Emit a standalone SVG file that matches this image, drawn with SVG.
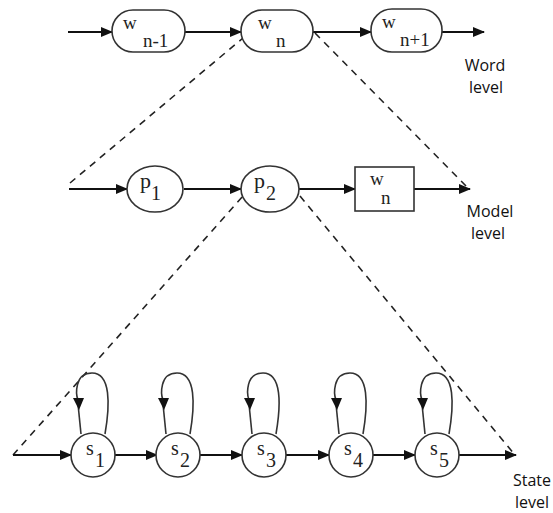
<svg xmlns="http://www.w3.org/2000/svg" width="553" height="513" viewBox="0 0 553 513">
<defs>
<marker id="ah" markerWidth="12" markerHeight="10" refX="11" refY="5" orient="auto" markerUnits="userSpaceOnUse">
<path d="M0,0 L12,5 L0,10 Z" fill="#111"/>
</marker>
</defs>
<style>
.n{fill:#fff;stroke:#333;stroke-width:1.6}
.e{fill:none;stroke:#111;stroke-width:2;marker-end:url(#ah)}
.d{fill:none;stroke:#222;stroke-width:1.6;stroke-dasharray:7,6}
.lp{fill:none;stroke:#333;stroke-width:1.6}
.t{font-family:"Liberation Serif",serif;fill:#222}
.l{font-family:"Open Sans","Liberation Sans",sans-serif;font-size:16px;fill:#111;text-anchor:middle}
</style>
<rect width="553" height="513" fill="#fff"/>
<g id="connectors">
<path class="d" d="M70,183 L243,38"/>
<path class="d" d="M315,33 L466,186"/>
<path class="d" d="M13,455 L243,196"/>
<path class="d" d="M300,196 L515,455"/>
<path class="e" d="M68,32 L112,32"/>
<path class="e" d="M185,32 L241,32"/>
<path class="e" d="M313,32 L371,32"/>
<path class="e" d="M442,32 L484,32"/>
<path class="e" d="M69,189 L127,189"/>
<path class="e" d="M184,189 L241,189"/>
<path class="e" d="M299,189 L355,189"/>
<path class="e" d="M414,189 L470,189"/>
<path class="e" d="M13,455 L71,455"/>
<path class="e" d="M115,455 L157,455"/>
<path class="e" d="M200,455 L242,455"/>
<path class="e" d="M286,455 L329,455"/>
<path class="e" d="M373,455 L415,455"/>
<path class="e" d="M459,455 L516,455"/>
</g>
<g id="loops">
<g transform="translate(0,0)"><path class="lp" d="M105,434 C110,405 111,373 92,373 C74,373 76,395 78,400"/><path class="lp" d="M78,404 L81,434" /><path d="M73,398 L84,398 L79,410 Z" fill="#111"/></g>
<g transform="translate(85,0)"><path class="lp" d="M105,434 C110,405 111,373 92,373 C74,373 76,395 78,400"/><path class="lp" d="M78,404 L81,434" /><path d="M73,398 L84,398 L79,410 Z" fill="#111"/></g>
<g transform="translate(171,0)"><path class="lp" d="M105,434 C110,405 111,373 92,373 C74,373 76,395 78,400"/><path class="lp" d="M78,404 L81,434" /><path d="M73,398 L84,398 L79,410 Z" fill="#111"/></g>
<g transform="translate(258,0)"><path class="lp" d="M105,434 C110,405 111,373 92,373 C74,373 76,395 78,400"/><path class="lp" d="M78,404 L81,434" /><path d="M73,398 L84,398 L79,410 Z" fill="#111"/></g>
<g transform="translate(344,0)"><path class="lp" d="M105,434 C110,405 111,373 92,373 C74,373 76,395 78,400"/><path class="lp" d="M78,404 L81,434" /><path d="M73,398 L84,398 L79,410 Z" fill="#111"/></g>
</g>
<g id="w_n-1">
<rect class="n" x="112" y="10" width="73" height="42" rx="21"/>
<text class="t" x="123" y="29" font-size="19">w</text><text class="t" x="143" y="47" font-size="19">n-1</text>
</g>
<g id="w_n">
<rect class="n" x="241" y="10" width="72" height="42" rx="21"/>
<text class="t" x="258" y="29" font-size="19">w</text><text class="t" x="276" y="47" font-size="19">n</text>
</g>
<g id="w_n+1">
<rect class="n" x="371" y="9" width="71" height="43" rx="21"/>
<text class="t" x="382" y="28" font-size="19">w</text><text class="t" x="400" y="46" font-size="19">n+1</text>
</g>
<g id="p1">
<ellipse class="n" cx="155" cy="189" rx="28" ry="23"/>
<text class="t" x="140" y="188" font-size="22">p</text><text class="t" x="151" y="200" font-size="20">1</text>
</g>
<g id="p2">
<ellipse class="n" cx="270" cy="189" rx="29" ry="23"/>
<text class="t" x="254" y="188" font-size="22">p</text><text class="t" x="266" y="200" font-size="20">2</text>
</g>
<g id="w_n_model">
<rect class="n" x="355" y="167" width="59" height="44"/>
<text class="t" x="370" y="185" font-size="19">w</text><text class="t" x="381" y="204" font-size="19">n</text>
</g>
<g id="s1"><circle class="n" cx="93" cy="455" r="22"/><text class="t" x="86" y="455" font-size="20">s</text><text class="t" x="95" y="467" font-size="20">1</text></g>
<g id="s2"><circle class="n" cx="178" cy="455" r="22"/><text class="t" x="171" y="455" font-size="20">s</text><text class="t" x="180" y="467" font-size="20">2</text></g>
<g id="s3"><circle class="n" cx="264" cy="455" r="22"/><text class="t" x="257" y="455" font-size="20">s</text><text class="t" x="266" y="467" font-size="20">3</text></g>
<g id="s4"><circle class="n" cx="351" cy="455" r="22"/><text class="t" x="344" y="455" font-size="20">s</text><text class="t" x="353" y="467" font-size="20">4</text></g>
<g id="s5"><circle class="n" cx="437" cy="455" r="22"/><text class="t" x="430" y="455" font-size="20">s</text><text class="t" x="439" y="467" font-size="20">5</text></g>
<g id="labels">
<text class="l" x="485" y="71">Word</text><text class="l" x="486" y="93">level</text>
<text class="l" x="490" y="217">Model</text><text class="l" x="488" y="239">level</text>
<text class="l" x="532" y="486">State</text><text class="l" x="532" y="508">level</text>
</g>
</svg>
